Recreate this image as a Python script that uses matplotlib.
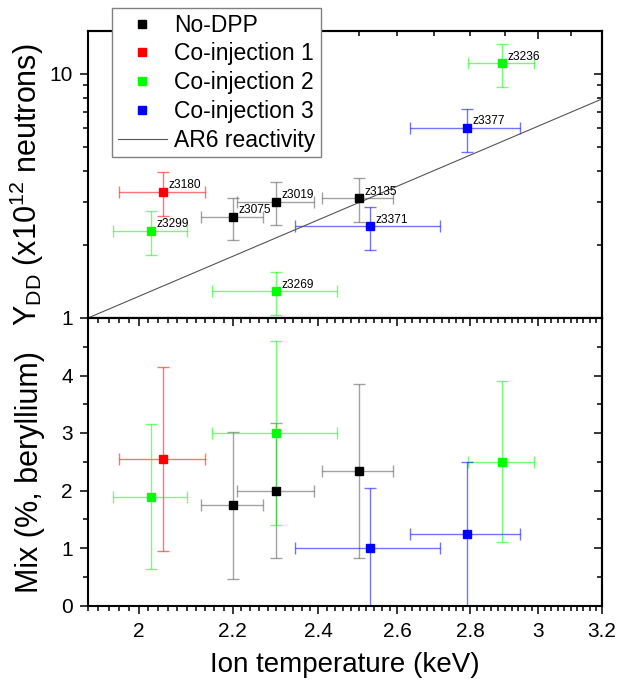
import matplotlib
matplotlib.use('Agg')
import matplotlib.pyplot as plt
import numpy as np
from matplotlib.ticker import FixedLocator, NullFormatter
from matplotlib.lines import Line2D

plt.rcParams['font.family'] = ['Liberation Sans', 'DejaVu Sans']
plt.rcParams['mathtext.fontset'] = 'custom'
plt.rcParams['mathtext.rm'] = 'Liberation Sans'
plt.rcParams['mathtext.it'] = 'Liberation Sans:italic'
plt.rcParams['mathtext.bf'] = 'Liberation Sans:bold'

# ---------------- data ----------------
series_names = ['No-DPP', 'Co-injection 1', 'Co-injection 2', 'Co-injection 3']
series_colors = ['#000000', '#ff0000', '#00ff00', '#0000ff']

# No-DPP
nodpp_shot = ['z3075', 'z3019', 'z3135']
nodpp_T = [2.20, 2.30, 2.50]
nodpp_Terr = [0.07, 0.09, 0.09]
nodpp_Y = [2.60, 3.00, 3.10]
nodpp_Yerr = [0.51, 0.60, 0.63]
nodpp_mix = [1.74, 2.00, 2.34]
nodpp_mixerr = [1.28, 1.17, 1.52]

# Co-injection 1
co1_shot = ['z3180']
co1_T = [2.05]
co1_Terr = [0.09]
co1_Y = [3.29]
co1_Yerr = [0.66]
co1_mix = [2.55]
co1_mixerr = [1.60]

# Co-injection 2
co2_shot = ['z3299', 'z3269', 'z3236']
co2_T = [2.025, 2.30, 2.89]
co2_Terr = [0.076, 0.146, 0.096]
co2_Y = [2.28, 1.29, 11.06]
co2_Yerr = [0.46, 0.26, 2.2]
co2_mix = [1.89, 3.00, 2.50]
co2_mixerr = [1.26, 1.60, 1.40]

# Co-injection 3
co3_shot = ['z3371', 'z3377']
co3_T = [2.53, 2.79]
co3_Terr = [0.185, 0.155]
co3_Y = [2.38, 6.01]
co3_Yerr = [0.48, 1.20]
co3_mix = [1.00, 1.25]
co3_mixerr = [1.05, 1.25]

# AR6 reactivity (power law, straight in log-log)
ar6_T = [1.9, 3.2]
ar6_Y = [1.0, 7.9]

xticks_major = [2.0, 2.2, 2.4, 2.6, 2.8, 3.0, 3.2]
xtick_labels = ['2', '2.2', '2.4', '2.6', '2.8', '3', '3.2']

all_series = [
    (nodpp_shot, nodpp_T, nodpp_Terr, nodpp_Y, nodpp_Yerr, nodpp_mix, nodpp_mixerr),
    (co1_shot, co1_T, co1_Terr, co1_Y, co1_Yerr, co1_mix, co1_mixerr),
    (co2_shot, co2_T, co2_Terr, co2_Y, co2_Yerr, co2_mix, co2_mixerr),
    (co3_shot, co3_T, co3_Terr, co3_Y, co3_Yerr, co3_mix, co3_mixerr),
]

# ---------------- figure ----------------
W, H = 618, 688
fig = plt.figure(figsize=(W / 100, H / 100), dpi=100)
L = 88 / W
AW = (602 - 88) / W
ax1 = fig.add_axes([L, 1 - 318 / H, AW, (318 - 31) / H])
ax2 = fig.add_axes([L, 1 - 605.5 / H, AW, (605.5 - 318) / H])

spine_lw = 1.5
ms = 5.8
for (shot, T, Terr, Y, Yerr, mix, mixerr), col in zip(all_series, series_colors):
    ecol = col if col != '#000000' else '#555555'
    ax1.errorbar(T, Y, xerr=Terr, yerr=Yerr, fmt='none', ecolor=ecol, alpha=0.55,
                 elinewidth=1.0, capsize=4.5, capthick=1.0, zorder=2)
    ax1.plot(T, Y, 's', color=col, ms=ms, mec=col, zorder=4, linestyle='none')
    ax2.errorbar(T, mix, xerr=Terr, yerr=mixerr, fmt='none', ecolor=ecol, alpha=0.55,
                 elinewidth=1.0, capsize=4.5, capthick=1.0, zorder=2)
    ax2.plot(T, mix, 's', color=col, ms=ms, mec=col, zorder=4, linestyle='none')
    for s, t, y in zip(shot, T, Y):
        ax1.annotate(s, (t, y), xytext=(4, 2.5), textcoords='offset points',
                     ha='left', va='baseline', fontsize=8.6, zorder=5)

ax1.plot(ar6_T, ar6_Y, '-', color='#555555', lw=0.8, zorder=3)

for ax in (ax1, ax2):
    ax.set_xscale('log')
    ax.set_xlim(1.9, 3.2)
    for sp in ax.spines.values():
        sp.set_linewidth(spine_lw)

ax1.set_yscale('log')
ax1.set_ylim(1, 15)
ax2.set_ylim(0, 5)

minor_x = [v for v in np.round(np.arange(1.9, 3.2001, 0.02), 2) if v not in xticks_major]

# top panel
ax1.tick_params(axis='x', which='both', bottom=False, top=False, labelbottom=False)
ax1.set_yticks([1, 10], labels=['1', '10'])
ax1.yaxis.set_minor_locator(FixedLocator([2, 3, 4, 5, 6, 7, 8, 9]))
ax1.yaxis.set_minor_formatter(NullFormatter())
ax1.tick_params(axis='y', which='major', direction='out', length=6, width=1.1,
                labelsize=15, pad=5, right=False)
ax1.tick_params(axis='y', which='minor', direction='out', length=3.5, width=1.1, right=False)

s1x = ax1.secondary_xaxis('top')
s1x.xaxis.set_major_locator(FixedLocator([2.0, 3.0]))
s1x.xaxis.set_minor_locator(FixedLocator(list(np.round(np.arange(1.9, 3.21, 0.1), 1))))
s1x.xaxis.set_major_formatter(NullFormatter())
s1x.xaxis.set_minor_formatter(NullFormatter())
s1x.tick_params(which='major', direction='in', length=6, width=1.1)
s1x.tick_params(which='minor', direction='in', length=3.5, width=1.1)
s1x.spines['top'].set_linewidth(spine_lw)

s1y = ax1.secondary_yaxis('right')
s1y.yaxis.set_major_locator(FixedLocator([1, 10]))
s1y.yaxis.set_minor_locator(FixedLocator([2, 3, 4, 5, 6, 7, 8, 9]))
s1y.yaxis.set_major_formatter(NullFormatter())
s1y.yaxis.set_minor_formatter(NullFormatter())
s1y.tick_params(which='major', direction='in', length=6, width=1.1)
s1y.tick_params(which='minor', direction='in', length=3.5, width=1.1)
s1y.spines['right'].set_linewidth(spine_lw)

# bottom panel
ax2.set_xticks(xticks_major, labels=xtick_labels)
ax2.xaxis.set_minor_locator(FixedLocator(minor_x))
ax2.xaxis.set_minor_formatter(NullFormatter())
ax2.tick_params(axis='x', which='major', direction='out', length=6, width=1.1,
                labelsize=15, pad=6, top=False)
ax2.tick_params(axis='x', which='minor', direction='out', length=3.5, width=1.1, top=False)
ax2.set_yticks([0, 1, 2, 3, 4])
ax2.yaxis.set_minor_locator(FixedLocator([0.5, 1.5, 2.5, 3.5, 4.5]))
ax2.tick_params(axis='y', which='major', direction='out', length=6, width=1.1,
                labelsize=15, pad=5, right=False)
ax2.tick_params(axis='y', which='minor', direction='out', length=3.5, width=1.1, right=False)

s2x = ax2.secondary_xaxis('top')
s2x.xaxis.set_major_locator(FixedLocator(xticks_major))
s2x.xaxis.set_minor_locator(FixedLocator(minor_x))
s2x.xaxis.set_major_formatter(NullFormatter())
s2x.xaxis.set_minor_formatter(NullFormatter())
s2x.tick_params(which='major', direction='in', length=6, width=1.1)
s2x.tick_params(which='minor', direction='in', length=3.5, width=1.1)
s2x.spines['top'].set_linewidth(spine_lw)

s2y = ax2.secondary_yaxis('right')
s2y.yaxis.set_major_locator(FixedLocator([0, 1, 2, 3, 4]))
s2y.yaxis.set_minor_locator(FixedLocator([0.5, 1.5, 2.5, 3.5, 4.5]))
s2y.yaxis.set_major_formatter(NullFormatter())
s2y.yaxis.set_minor_formatter(NullFormatter())
s2y.tick_params(which='major', direction='in', length=6, width=1.1)
s2y.tick_params(which='minor', direction='in', length=3.5, width=1.1)
s2y.spines['right'].set_linewidth(spine_lw)

# labels
fig.text(27 / W, 1 - 185 / H, r'Y$_{\rm DD}$ (x10$^{12}$ neutrons)', rotation=90,
         ha='center', va='center', fontsize=22)
fig.text(30 / W, 1 - 472 / H, 'Mix (%, beryllium)', rotation=90,
         ha='center', va='center', fontsize=22)
fig.text(345 / W, 1 - 665 / H, 'Ion temperature (keV)', ha='center', va='center',
         fontsize=20)

# legend
handles = [Line2D([], [], marker='s', ls='none', color=c, mec=c, ms=5.5)
           for c in series_colors]
handles.append(Line2D([], [], color='#555555', lw=0.8))
labels = series_names + ['AR6 reactivity']
leg = fig.legend(handles, labels, loc='upper left',
                 bbox_to_anchor=(112 / W, 1 - 8 / H), bbox_transform=fig.transFigure,
                 borderaxespad=0, fontsize=16.5, frameon=True, fancybox=False,
                 edgecolor='#808080', borderpad=0.25, handlelength=2.15,
                 handletextpad=0.32, labelspacing=0.25, numpoints=1)
leg.get_frame().set_linewidth(1.0)
leg.get_frame().set_alpha(1)
leg.set_zorder(10)

fig.savefig('out.png', dpi=100)
